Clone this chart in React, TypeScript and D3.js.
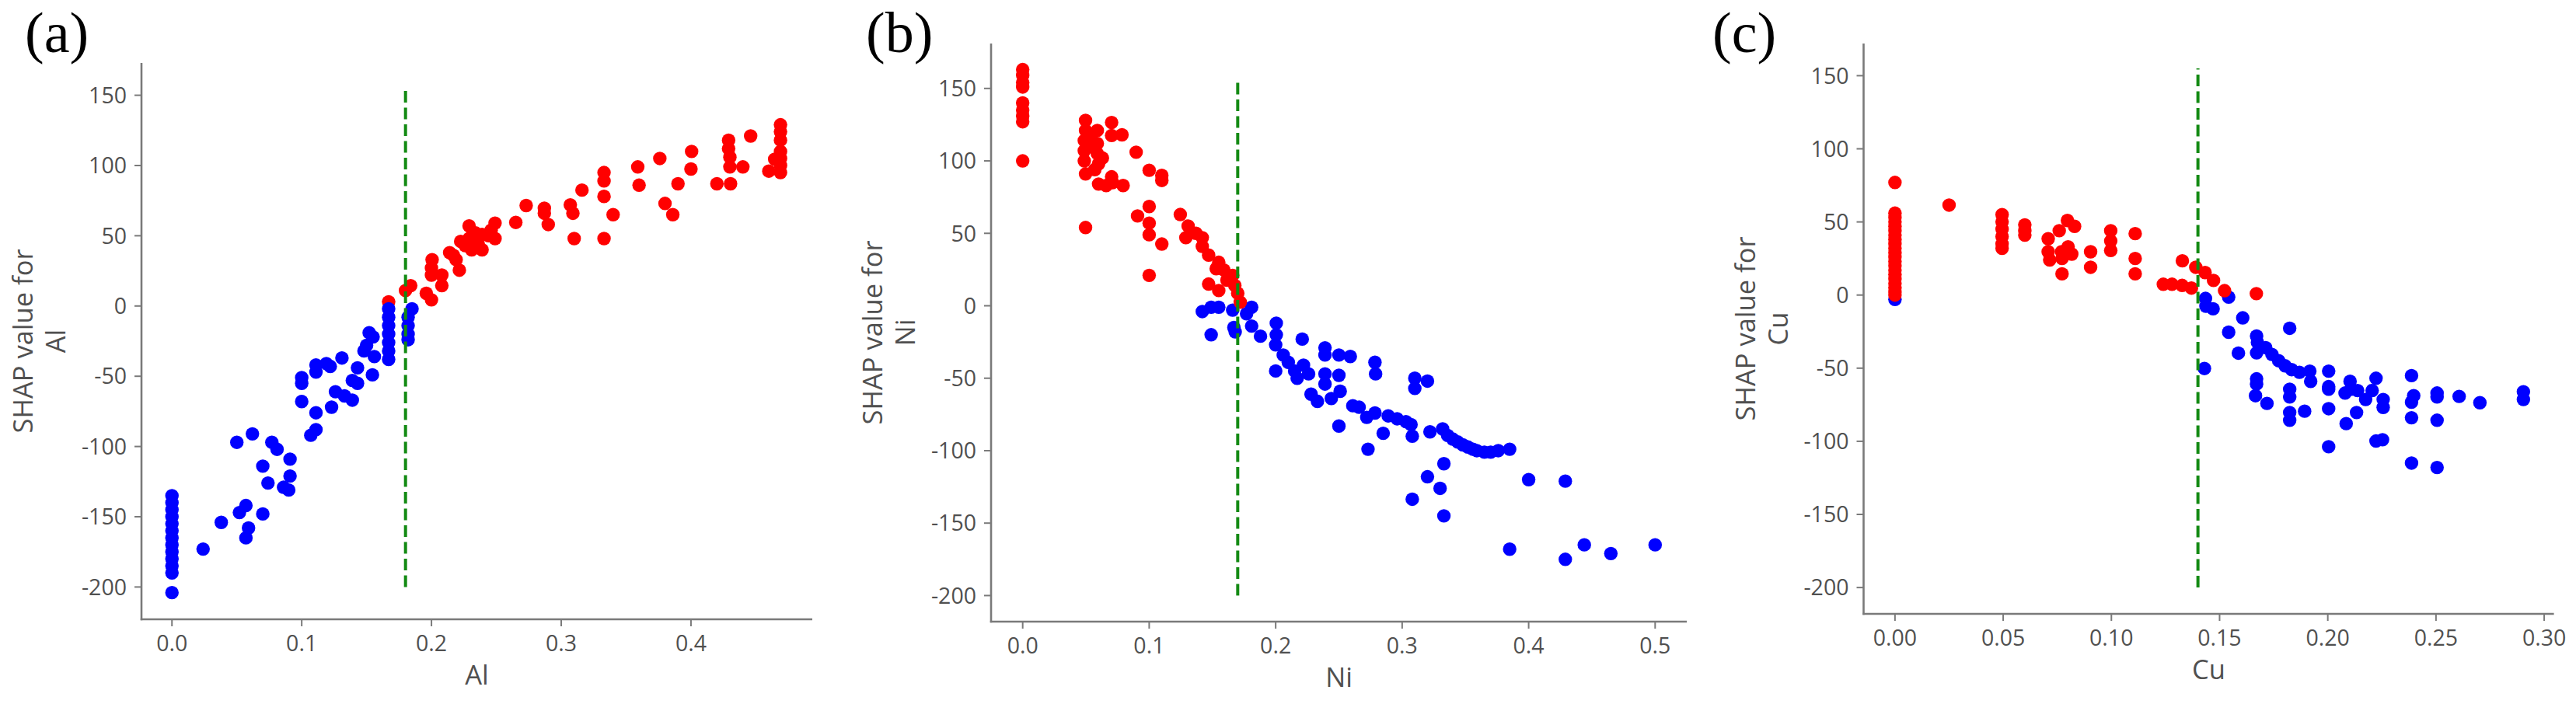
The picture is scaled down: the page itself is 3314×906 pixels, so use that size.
import React from 'react';
import * as d3 from 'd3';

type P = [number, number];

// ---------- data ----------
const panelLetters = ['(a)', '(b)', '(c)'];
const features = ['Al', 'Ni', 'Cu'];
const thresholds = [0.18, 0.17, 0.14];
const thresholdSpan = [-200, 155];
const yTicks = [-200, -150, -100, -50, 0, 50, 100, 150];
const alTicks = [0, 0.1, 0.2, 0.3, 0.4];
const niTicks = [0, 0.1, 0.2, 0.3, 0.4, 0.5];
const cuTicks = [0, 0.05, 0.1, 0.15, 0.2, 0.25, 0.3];

const alBlue: P[] = [
  [0, -135], [0, -140], [0, -145], [0, -150], [0, -155], [0, -160], [0, -165], [0, -170], [0, -175], [0, -180], [0, -185], [0, -190], [0, -204],
  [0.024, -173], [0.038, -154], [0.05, -97], [0.062, -91], [0.052, -147], [0.057, -142], [0.07, -148], [0.059, -158], [0.057, -165],
  [0.077, -97], [0.081, -102], [0.091, -109], [0.07, -114], [0.074, -126], [0.091, -121], [0.086, -129], [0.09, -131],
  [0.1, -51], [0.1, -55], [0.1, -68], [0.111, -76], [0.107, -92], [0.111, -88], [0.111, -42], [0.111, -47], [0.119, -41], [0.122, -43],
  [0.131, -37], [0.123, -72], [0.126, -61], [0.133, -64], [0.139, -67], [0.139, -53], [0.143, -44], [0.143, -55],
  [0.152, -19], [0.155, -22], [0.15, -28], [0.148, -32], [0.156, -36], [0.1545, -49],
  [0.167, -2], [0.167, -8], [0.167, -14], [0.167, -20], [0.167, -26], [0.167, -32], [0.167, -38],
  [0.185, -2], [0.182, -8], [0.182, -14], [0.182, -20], [0.182, -24],
];
const alRed: P[] = [
  [0.167, 3], [0.18, 11], [0.184, 14.5], [0.2005, 33], [0.2, 27], [0.2, 22], [0.196, 9], [0.2, 4.4], [0.208, 22], [0.208, 14.5],
  [0.214, 38], [0.219, 33], [0.2215, 25.5], [0.2225, 46], [0.229, 57], [0.229, 48], [0.231, 40], [0.239, 51], [0.239, 40],
  [0.217, 36], [0.226, 43], [0.234, 52], [0.236, 44], [0.244, 50], [0.246, 54],
  [0.249, 59], [0.249, 48], [0.265, 59.5], [0.273, 71.5], [0.287, 69.6], [0.287, 66], [0.29, 58], [0.307, 72], [0.309, 66], [0.31, 48],
  [0.316, 82.5], [0.333, 95], [0.333, 89], [0.333, 78], [0.333, 48], [0.34, 65], [0.359, 99], [0.36, 86], [0.376, 105], [0.38, 73],
  [0.386, 65], [0.39, 87], [0.4005, 110], [0.4, 97.5], [0.42, 87], [0.4305, 87], [0.429, 118], [0.429, 112], [0.43, 106], [0.43, 99],
  [0.44, 99], [0.446, 121], [0.46, 96], [0.4645, 104.5], [0.469, 129], [0.469, 124], [0.469, 118], [0.469, 110], [0.469, 105], [0.469, 100], [0.469, 95],
];

const niRed: P[] = [
  [0, 163], [0, 159], [0, 154], [0, 151], [0, 140], [0, 135], [0, 131], [0, 127], [0, 100],
  [0.0497, 128], [0.0497, 121], [0.0487, 114], [0.0487, 107], [0.0487, 100], [0.0497, 91], [0.0497, 54], [0.054, 110], [0.054, 117], [0.063, 102],
  [0.059, 121], [0.059, 112], [0.059, 105], [0.06, 98], [0.057, 94], [0.06, 84], [0.066, 83], [0.0703, 126.5], [0.0703, 117.5],
  [0.0703, 89], [0.071, 85], [0.0785, 118], [0.0794, 83], [0.0897, 106], [0.1, 93.5], [0.11, 90], [0.11, 86.5], [0.1, 68.5],
  [0.0908, 62], [0.1, 57], [0.1, 49], [0.11, 42.6], [0.1, 21], [0.1246, 63], [0.1308, 55], [0.129, 47], [0.137, 50], [0.142, 47],
  [0.142, 41], [0.147, 35], [0.155, 30], [0.153, 25.6], [0.159, 24.7], [0.147, 15], [0.155, 10.5], [0.1615, 17.7], [0.1677, 14],
  [0.17, 8.6], [0.172, 2.5], [0.166, 21],
];
const niBlue: P[] = [
  [0.142, -4], [0.149, -1], [0.155, -1], [0.149, -20], [0.166, -3], [0.167, -15], [0.168, -18], [0.181, -1], [0.177, -5.5], [0.181, -14],
  [0.188, -21], [0.2005, -12], [0.2005, -20], [0.2, -27], [0.2, -45], [0.206, -34], [0.21, -39], [0.215, -45], [0.217, -50],
  [0.221, -23], [0.222, -41], [0.226, -47], [0.228, -61], [0.233, -66], [0.239, -29], [0.239, -34], [0.239, -47], [0.239, -54],
  [0.244, -64], [0.25, -48], [0.251, -59], [0.25, -83], [0.25, -34], [0.259, -35], [0.261, -69], [0.266, -70], [0.272, -77],
  [0.273, -99], [0.2785, -39], [0.279, -47], [0.2785, -74], [0.285, -88], [0.289, -76], [0.296, -78], [0.303, -80], [0.307, -82],
  [0.308, -90], [0.31, -50], [0.31, -57], [0.32, -52], [0.322, -87], [0.332, -85], [0.336, -89.5], [0.34, -92], [0.344, -94],
  [0.348, -96], [0.352, -97.5], [0.356, -99], [0.359, -100], [0.365, -101], [0.37, -101], [0.376, -100], [0.385, -99],
  [0.333, -109], [0.32, -118], [0.33, -126], [0.308, -133.5], [0.333, -145], [0.4, -120], [0.429, -121], [0.385, -168],
  [0.429, -175], [0.444, -165], [0.465, -171], [0.5, -165],
];

const cuRed: P[] = [
  [0, 77], [0, 56], [0, 53], [0, 50], [0, 47], [0, 44], [0, 41], [0, 38], [0, 35], [0, 32], [0, 29], [0, 26], [0, 23], [0, 20],
  [0, 17], [0, 14], [0, 11], [0, 8], [0, 5], [0, 2], [0, 0],
  [0.025, 61.5], [0.0495, 55], [0.0495, 50], [0.0495, 45], [0.0495, 40], [0.0495, 35], [0.0495, 32], [0.06, 48], [0.06, 44], [0.06, 41],
  [0.0708, 38.5], [0.0708, 29.6], [0.0715, 24], [0.0772, 14.5], [0.0772, 25], [0.0759, 44], [0.0797, 51], [0.083, 47], [0.08, 33],
  [0.0817, 28], [0.077, 29.6], [0.0904, 29.6], [0.0904, 19], [0.0997, 44], [0.0997, 37], [0.0997, 30.5], [0.111, 42], [0.111, 25],
  [0.111, 14.5], [0.1328, 23.4], [0.124, 7.4], [0.128, 7.4], [0.1327, 6.6], [0.137, 4.8], [0.139, 19], [0.1433, 15.4], [0.1472, 10],
  [0.1523, 3], [0.167, 1],
];
const cuBlue: P[] = [
  [0, -3], [0.1435, -2.3], [0.1437, -7.6], [0.147, -9.4], [0.1542, -1.4], [0.1607, -15.6], [0.1542, -25.4], [0.143, -50.2],
  [0.1587, -39.7], [0.1671, -28], [0.1675, -32.4], [0.1671, -39.5], [0.1713, -36], [0.1742, -40.6], [0.1773, -44.9], [0.1803, -48.4],
  [0.1833, -51], [0.1869, -52.8], [0.1917, -52], [0.1921, -59], [0.1824, -22.7], [0.1671, -57.3], [0.1671, -60.8], [0.1666, -68.8],
  [0.1719, -74.1], [0.1824, -64.4], [0.1824, -69.7], [0.1824, -80.3], [0.1824, -85.6], [0.1893, -79.4], [0.2004, -52], [0.2004, -62.6],
  [0.2004, -64.4], [0.2004, -77.7], [0.2004, -103.7], [0.2085, -87.9], [0.2103, -59], [0.2109, -64.4], [0.208, -67], [0.2133, -80.3],
  [0.2138, -65.3], [0.2175, -71.4], [0.2205, -65.3], [0.2223, -56.9], [0.2256, -71.4], [0.2256, -76.8], [0.2223, -99.8], [0.2253, -98.9],
  [0.2387, -55.1], [0.2397, -68.8], [0.2387, -73.2], [0.2387, -83.9], [0.2387, -114.9], [0.2505, -67], [0.2505, -69.7], [0.2505, -85.6],
  [0.2505, -117.9], [0.2607, -69.3], [0.2703, -73.6], [0.2904, -66.1], [0.2904, -71.4],
];

// ---------- layout ----------
const W = 3314;
const H = 906;
const FONT = '"Open Sans", "DejaVu Sans", sans-serif';
const AXIS_COLOR = '#7a7a7a';
const TEXT_COLOR = '#505050';
const R = 8.7;

interface PanelCfg {
  letter: string;
  feature: string;
  threshold: number;
  left: number; right: number; top: number; bottom: number;
  xDomain: [number, number];
  yDomain: [number, number];
  xTicks: number[];
  xFmt: (v: number) => string;
  red: P[]; blue: P[];
  blueOnTop: boolean;
  letterX: number;
}

const panels: PanelCfg[] = [
  { letter: panelLetters[0], feature: features[0], threshold: thresholds[0], left: 182, right: 1045, top: 81, bottom: 797,
    xDomain: [-0.0235, 0.4935], yDomain: [-223, 173], xTicks: alTicks, xFmt: d3.format('.1f'), red: alRed, blue: alBlue, blueOnTop: true, letterX: 32 },
  { letter: panelLetters[1], feature: features[1], threshold: thresholds[1], left: 1275, right: 2170, top: 56, bottom: 800,
    xDomain: [-0.025, 0.525], yDomain: [-218, 181], xTicks: niTicks, xFmt: d3.format('.1f'), red: niRed, blue: niBlue, blueOnTop: false, letterX: 1114 },
  { letter: panelLetters[2], feature: features[2], threshold: thresholds[2], left: 2397.5, right: 3285.6, top: 56, bottom: 790,
    xDomain: [-0.0145, 0.3045], yDomain: [-218, 172], xTicks: cuTicks, xFmt: d3.format('.2f'), red: cuRed, blue: cuBlue, blueOnTop: false, letterX: 2203 },
];

function Panel({ cfg }: { cfg: PanelCfg }) {
  const x = d3.scaleLinear().domain(cfg.xDomain).range([cfg.left, cfg.right]);
  const y = d3.scaleLinear().domain(cfg.yDomain).range([cfg.bottom, cfg.top]);
  const dots = (pts: P[], color: string, key: string) =>
    pts.map((p, i) => <circle key={key + i} cx={x(p[0])} cy={y(p[1])} r={R} fill={color} />);
  const layers = cfg.blueOnTop
    ? [dots(cfg.red, '#ff0000', 'r'), dots(cfg.blue, '#0000ff', 'b')]
    : [dots(cfg.blue, '#0000ff', 'b'), dots(cfg.red, '#ff0000', 'r')];
  const midY = (cfg.top + cfg.bottom) / 2;
  const midX = (cfg.left + cfg.right) / 2;
  return (
    <g>
      <text x={cfg.letterX} y={67} fontFamily='"Liberation Serif", "Times New Roman", serif' fontSize={74} fill="#000">{cfg.letter}</text>
      {/* axes */}
      <line x1={cfg.left} x2={cfg.left} y1={cfg.top} y2={cfg.bottom + 1.2} stroke={AXIS_COLOR} strokeWidth={2.6} />
      <line x1={cfg.left - 1.2} x2={cfg.right} y1={cfg.bottom} y2={cfg.bottom} stroke={AXIS_COLOR} strokeWidth={2.6} />
      {yTicks.map((t) => (
        <g key={'yt' + t}>
          <line x1={cfg.left - 9} x2={cfg.left} y1={y(t)} y2={y(t)} stroke={AXIS_COLOR} strokeWidth={2} />
          <text x={cfg.left - 19} y={y(t)} dy="0.36em" textAnchor="end" fontFamily={FONT} fontSize={28.5} fill={TEXT_COLOR}>{String(t)}</text>
        </g>
      ))}
      {cfg.xTicks.map((t) => (
        <g key={'xt' + t}>
          <line x1={x(t)} x2={x(t)} y1={cfg.bottom} y2={cfg.bottom + 9} stroke={AXIS_COLOR} strokeWidth={2} />
          <text x={x(t)} y={cfg.bottom + 41} textAnchor="middle" fontFamily={FONT} fontSize={28.5} fill={TEXT_COLOR}>{cfg.xFmt(t)}</text>
        </g>
      ))}
      {/* axis labels */}
      <text x={midX} y={cfg.bottom + 72} dy="0.36em" textAnchor="middle" fontFamily={FONT} fontSize={34.5} fill={TEXT_COLOR}>{cfg.feature}</text>
      <g transform={`translate(${cfg.left - 152},${midY}) rotate(-90)`}>
        <text x={0} y={0} dy="0.36em" textAnchor="middle" fontFamily={FONT} fontSize={34.5} fill={TEXT_COLOR}>SHAP value for</text>
      </g>
      <g transform={`translate(${cfg.left - 110},${midY}) rotate(-90)`}>
        <text x={0} y={0} dy="0.36em" textAnchor="middle" fontFamily={FONT} fontSize={34.5} fill={TEXT_COLOR}>{cfg.feature}</text>
      </g>
      {/* points */}
      {layers}
      {/* threshold */}
      <line x1={x(cfg.threshold)} x2={x(cfg.threshold)} y1={y(thresholdSpan[0])} y2={y(thresholdSpan[1])}
        stroke="#138a13" strokeWidth={4} strokeDasharray="15,6.5" />
    </g>
  );
}

export default function App() {
  return (
    <svg width={W} height={H} viewBox={`0 0 ${W} ${H}`} style={{ position: 'absolute', left: 0, top: 0, background: '#fff' }}>
      <rect x={0} y={0} width={W} height={H} fill="#fff" />
      {panels.map((p) => <Panel key={p.letter} cfg={p} />)}
    </svg>
  );
}
